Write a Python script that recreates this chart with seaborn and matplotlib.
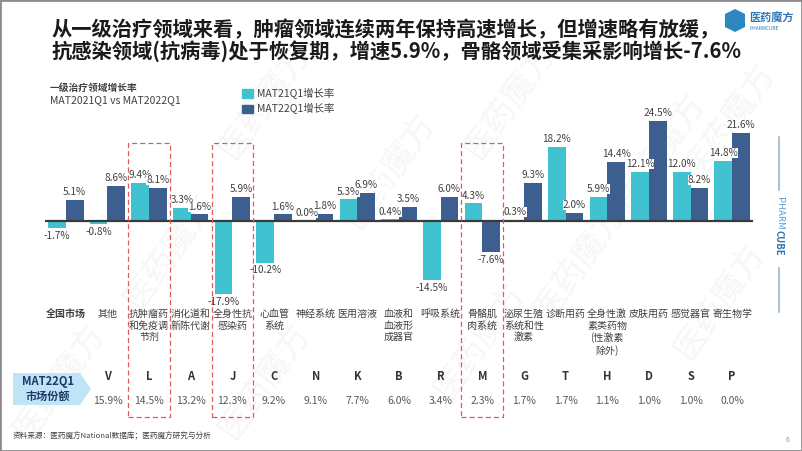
import pandas as pd
import matplotlib
matplotlib.use("Agg")
import matplotlib.pyplot as plt
import matplotlib.transforms as mtransforms
from matplotlib.patches import Rectangle, Polygon, Patch
import seaborn as sns

# Data
categories = ["全国市场", "其他", "抗肿瘤药\n和免疫调\n节剂", "消化道和\n新陈代谢", "全身性抗\n感染药",
              "心血管\n系统", "神经系统", "医用溶液", "血液和\n血液形\n成器官", "呼吸系统",
              "骨骼肌\n肉系统", "泌尿生殖\n系统和性\n激素", "诊断用药", "全身性激\n素类药物\n(性激素\n除外)",
              "皮肤用药", "感觉器官", "寄生物学"]
growth_21 = [-1.7, -0.8, 9.4, 3.3, -17.9, -10.2, 0.0, 5.3, 0.4, -14.5, 4.3, 0.3, 18.2, 5.9, 12.1, 12.0, 14.8]
growth_22 = [5.1, 8.6, 8.1, 1.6, 5.9, 1.6, 1.8, 6.9, 3.5, 6.0, -7.6, 9.3, 2.0, 14.4, 24.5, 8.2, 21.6]
atc_codes = ["", "V", "L", "A", "J", "C", "N", "K", "B", "R", "M", "G", "T", "H", "D", "S", "P"]
market_share = ["", "15.9%", "14.5%", "13.2%", "12.3%", "9.2%", "9.1%", "7.7%", "6.0%", "3.4%",
                "2.3%", "1.7%", "1.7%", "1.1%", "1.0%", "1.0%", "0.0%"]
series_names = ["MAT21Q1增长率", "MAT22Q1增长率"]
highlight = ["L", "J", "M"]

W, H = 802, 451
C1, C2 = "#40C2D0", "#3C5F8F"
TXT = "#404040"


def fx(x):
    return x / W


def fy(y):
    return 1 - y / H


sns.set_theme(style="white")
plt.rcParams['font.family'] = ['Noto Sans CJK SC', 'DejaVu Sans']
plt.rcParams['axes.unicode_minus'] = False

df = pd.DataFrame({
    "cat": categories * 2,
    "series": [series_names[0]] * len(categories) + [series_names[1]] * len(categories),
    "value": growth_21 + growth_22,
})

fig = plt.figure(figsize=(8.02, 4.51), dpi=100)
fig.patch.set_facecolor("white")

# watermarks (behind everything)
for (x, y) in [(265, 100), (170, 250), (390, 170), (510, 100), (660, 150), (60, 380),
               (265, 380), (480, 340), (580, 260), (720, 300), (730, 120)]:
    fig.text(fx(x), fy(y), "医药魔方", rotation=55, ha="center", va="center", fontsize=24,
             color="#d8d8d8", alpha=0.22, zorder=-1)

ax = fig.add_axes([fx(45), fy(300.6), fx(708), 189.8 / H])

sns.barplot(data=df, x="cat", y="value", hue="series", order=categories, hue_order=series_names,
            palette=[C1, C2], width=0.85, saturation=1, ax=ax, legend=True, zorder=2,
            linewidth=0)

ax.set_xlim(-0.5, len(categories) - 0.5)
ax.set_ylim(-19.5, 27)
ax.axhline(0, color="#3a3a3a", lw=1.6, zorder=3)
ax.set_xticks([])
ax.set_yticks([])
ax.set_xlabel("")
ax.set_ylabel("")
for s in ax.spines.values():
    s.set_visible(False)
ax.patch.set_alpha(0)

# value labels
for cont, vals in zip(ax.containers, [growth_21, growth_22]):
    for bar, v in zip(cont, vals):
        xc = bar.get_x() + bar.get_width() / 2
        off, va = (2, "bottom") if v >= 0 else (-2, "top")
        ax.annotate(f"{v:.1f}%", (xc, v), xytext=(0, off), textcoords="offset points",
                    ha="center", va=va, fontsize=7.2, color=TXT, zorder=5,
                    bbox=dict(boxstyle="square,pad=0.0", fc="white", ec="none"))

# legend
handles = [Patch(color=C1), Patch(color=C2)]
ax.legend(handles, series_names, loc="upper left", bbox_to_anchor=(fx(237), fy(83)),
          bbox_transform=fig.transFigure, frameon=False, fontsize=7.5, handlelength=1.0,
          handleheight=0.9, labelspacing=0.4, handletextpad=0.4, borderpad=0,
          labelcolor=TXT)

# titles
fig.text(fx(52), fy(30), "从一级治疗领域来看，肿瘤领域连续两年保持高速增长，但增速略有放缓，",
         fontsize=14.6, fontweight="bold", va="center", color="#1a1a1a")
fig.text(fx(52), fy(51), "抗感染领域(抗病毒)处于恢复期，增速5.9%，骨骼领域受集采影响增长-7.6%",
         fontsize=14.6, fontweight="bold", va="center", color="#1a1a1a")
fig.text(fx(50), fy(88), "一级治疗领域增长率", fontsize=7, fontweight="bold", va="center", color=TXT)
fig.text(fx(50), fy(100), "MAT2021Q1 vs MAT2022Q1", fontsize=7.5, va="center", color=TXT)

# category labels, codes and shares
blend = mtransforms.blended_transform_factory(ax.transData, fig.transFigure)
for i, (cat, code, share) in enumerate(zip(categories, atc_codes, market_share)):
    bold = "bold" if i == 0 else "normal"
    ax.text(i, fy(309), cat, transform=blend, ha="center", va="top", fontsize=7.2,
            color=TXT, fontweight=bold, linespacing=1.2)
    ax.text(i, fy(377), code, transform=blend, ha="center", va="center", fontsize=8,
            fontweight="bold", color="#333333")
    ax.text(i, fy(401), share, transform=blend, ha="center", va="center", fontsize=7.5,
            color="#595959")
    if code in highlight:
        ax.add_artist(Rectangle((i - 0.5, fy(417)), 1.0, fy(143) - fy(417), transform=blend,
                                fill=False, ec="#E05A5A", ls=(0, (4, 2.5)), lw=0.9,
                                clip_on=False, zorder=6))

# market share tag
fig.add_artist(Polygon([(fx(13), fy(373)), (fx(80), fy(373)), (fx(91), fy(389)),
                        (fx(80), fy(405)), (fx(13), fy(405))],
                       closed=True, transform=fig.transFigure, fc="#BFE4F7", ec="none"))
fig.text(fx(48), fy(389), "MAT22Q1\n市场份额", ha="center", va="center", fontsize=8,
         fontweight="bold", color="#1F3864", linespacing=1.15)

# source and page number
fig.text(fx(13), fy(436), "资料来源：医药魔方National数据库；医药魔方研究与分析", fontsize=5.5,
         va="center", color=TXT)
fig.text(fx(786), fy(440), "6", fontsize=5, va="center", color="#999999")

# logo
fig.add_artist(Polygon([(fx(725), fy(14)), (fx(735), fy(9)), (fx(745), fy(14)),
                        (fx(745), fy(27)), (fx(735), fy(32)), (fx(725), fy(27))],
                       closed=True, transform=fig.transFigure, fc="#2E86C1", ec="none"))
fig.text(fx(749), fy(18), "医药魔方", fontsize=8, fontweight="bold", va="center", color="#2E75B6")
fig.text(fx(749), fy(28), "PHARMCUBE", fontsize=3.5, va="center", color="#2E75B6")

# side brand
fig.add_artist(plt.Line2D([fx(779), fx(779)], [fy(137), fy(190)], color="#A9C4D9", lw=1.5,
                          transform=fig.transFigure))
fig.add_artist(plt.Line2D([fx(779), fx(779)], [fy(268), fy(312)], color="#A9C4D9", lw=1.5,
                          transform=fig.transFigure))
fig.text(fx(779), fy(213), "PHARM", rotation=-90, ha="center", va="center", fontsize=6.8,
         color="#5B9BD5")
fig.text(fx(779), fy(243), "CUBE", rotation=-90, ha="center", va="center", fontsize=6.8,
         fontweight="bold", color="#2E75B6")

# frame
fig.add_artist(Rectangle((0, 0), 1, 1, transform=fig.transFigure, fill=False,
                         ec="#8c8c8c", lw=2))

plt.savefig("out.png", dpi=100)
